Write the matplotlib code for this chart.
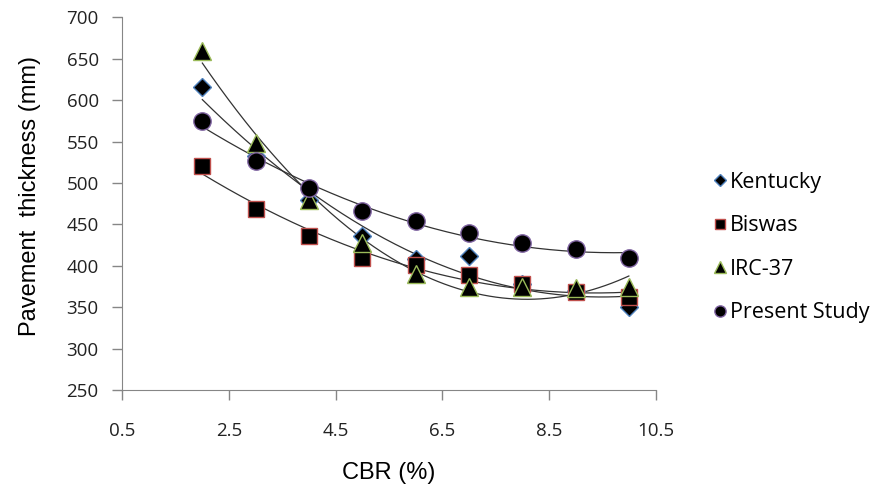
import matplotlib.pyplot as plt
import numpy as np

cbr = [2, 3, 4, 5, 6, 7, 8, 9, 10]
kentucky = [616, 532, 480, 436, 408, 412, 378, 370, 350]
biswas = [520, 469, 436, 410, 401, 389, 378, 369, 362]
irc37 = [659, 548, 479, 428, 390, 374, 375, 373, 374]
present = [575, 527, 494, 466, 454, 440, 428, 420, 410]

series = [
    ("Kentucky", kentucky, "D", 9.5, "#4F81BD"),
    ("Biswas", biswas, "s", 12, "#C0504D"),
    ("IRC-37", irc37, "^", 13, "#9BBB59"),
    ("Present Study", present, "o", 12.5, "#8064A2"),
]

fig = plt.figure(figsize=(8.74, 4.92), dpi=100)
ax = fig.add_axes([0.140, 0.207, 0.610, 0.758])

xs = np.linspace(2, 10, 200)
for name, vals, marker, size, edge in series:
    # polynomial trendline, like Excel's order-2 fit
    coef = np.polyfit(cbr, vals, 2)
    ax.plot(xs, np.polyval(coef, xs), color="#333333", lw=0.9, zorder=2)
for name, vals, marker, size, edge in series:
    ax.plot(cbr, vals, linestyle="none", marker=marker, markersize=size,
            markerfacecolor="black", markeredgecolor=edge, markeredgewidth=1,
            label=name, zorder=3)

ax.set_xlim(0.5, 10.5)
ax.set_ylim(250, 700)
ax.set_xticks([0.5, 2.5, 4.5, 6.5, 8.5, 10.5])
ax.set_yticks(range(250, 701, 50))

for s in ["top", "right"]:
    ax.spines[s].set_visible(False)
for s in ["left", "bottom"]:
    ax.spines[s].set_color("#868686")
ax.tick_params(colors="#868686", length=7, width=1, labelcolor="#222222",
               labelsize=13.5)
ax.tick_params(axis="x", pad=16)
ax.tick_params(axis="y", pad=10)
for lab in ax.get_xticklabels() + ax.get_yticklabels():
    lab.set_family("Open Sans")

ax.set_xlabel("CBR (%)", fontsize=17, family="Liberation Sans", labelpad=16)
ax.set_ylabel("Pavement  thickness (mm)", fontsize=17,
              family="Liberation Sans")
ax.yaxis.set_label_coords(-0.152, 0.52)

leg = fig.legend(loc="center left", bbox_to_anchor=(0.796, 0.497),
                 frameon=False, handlelength=0.5, handletextpad=0.2,
                 labelspacing=1.05, markerscale=0.65,
                 prop={"family": "Open Sans", "size": 15.5})

fig.savefig("out.png", dpi=100)
